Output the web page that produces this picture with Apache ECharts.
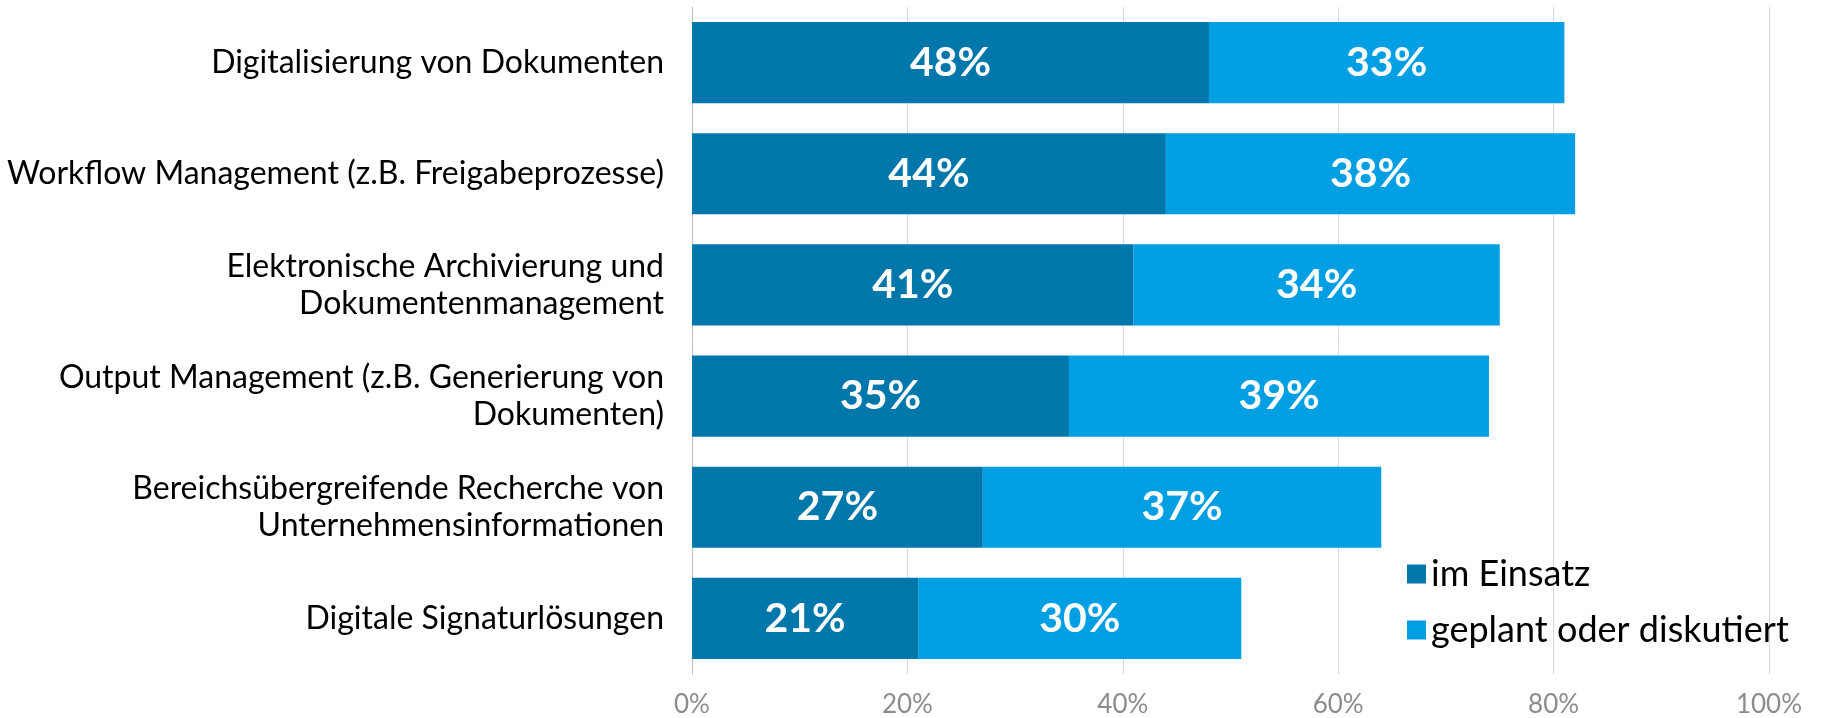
<!DOCTYPE html>
<html>
<head>
<meta charset="utf-8">
<script src="https://cdn.jsdelivr.net/npm/echarts@6/dist/echarts.min.js"></script>
<style>
  html, body { margin: 0; padding: 0; background: #fff; }
  #chart { width: 1821px; height: 718px; }
</style>
</head>
<body>
<div id="chart"></div>
<script>
// Kategorien (von oben nach unten)
var categories = [
    'Digitalisierung von Dokumenten',
    'Workflow Management (z.B. Freigabeprozesse)',
    'Elektronische Archivierung und\nDokumentenmanagement',
    'Output Management (z.B. Generierung von\nDokumenten)',
    'Bereichsübergreifende Recherche von\nUnternehmensinformationen',
    'Digitale Signaturlösungen'
];
var seriesNames = ['im Einsatz', 'geplant oder diskutiert'];
var imEinsatz = [48, 44, 41, 35, 27, 21];
var geplant = [33, 38, 34, 39, 37, 30];
var xTicks = [0, 20, 40, 60, 80, 100];

var font = 'Lato';
var chart = echarts.init(document.getElementById('chart'));

var option = {
    backgroundColor: '#fff',
    color: ['#0077ab', '#009fe3'],
    animation: false,
    grid: {
        left: 692,
        right: 52,
        top: 7,
        bottom: 44
    },
    legend: {
        orient: 'vertical',
        left: 1402,
        top: 551,
        itemWidth: 19,
        itemHeight: 19,
        itemGap: 20,
        icon: 'rect',
        data: seriesNames,
        textStyle: {
            fontFamily: font,
            fontSize: 36,
            lineHeight: 36,
            color: '#000'
        }
    },
    xAxis: {
        type: 'value',
        min: xTicks[0],
        max: xTicks[xTicks.length - 1],
        interval: 20,
        axisLine: { show: false },
        axisTick: { show: false },
        splitLine: { lineStyle: { color: '#d9d9d9', width: 1 } },
        axisLabel: {
            formatter: '{value}%',
            fontFamily: font,
            fontSize: 26,
            color: '#8c8c8c',
            margin: 18
        }
    },
    yAxis: {
        type: 'category',
        inverse: true,
        data: categories,
        axisLine: { show: true, lineStyle: { color: '#bfbfbf', width: 1 } },
        axisTick: { show: false },
        axisLabel: {
            fontFamily: font,
            fontSize: 32,
            lineHeight: 37,
            color: '#000',
            align: 'right',
            margin: 28
        }
    },
    series: [
        {
            name: seriesNames[0],
            type: 'bar',
            stack: 'total',
            barCategoryGap: '27%',
            data: imEinsatz,
            label: {
                show: true,
                position: 'inside',
                formatter: '{c}%',
                fontFamily: font,
                fontWeight: 'bold',
                fontSize: 41,
                color: '#fff'
            }
        },
        {
            name: seriesNames[1],
            type: 'bar',
            stack: 'total',
            barCategoryGap: '27%',
            data: geplant,
            label: {
                show: true,
                position: 'inside',
                formatter: '{c}%',
                fontFamily: font,
                fontWeight: 'bold',
                fontSize: 41,
                color: '#fff'
            }
        }
    ]
};
chart.setOption(option);
</script>
</body>
</html>
